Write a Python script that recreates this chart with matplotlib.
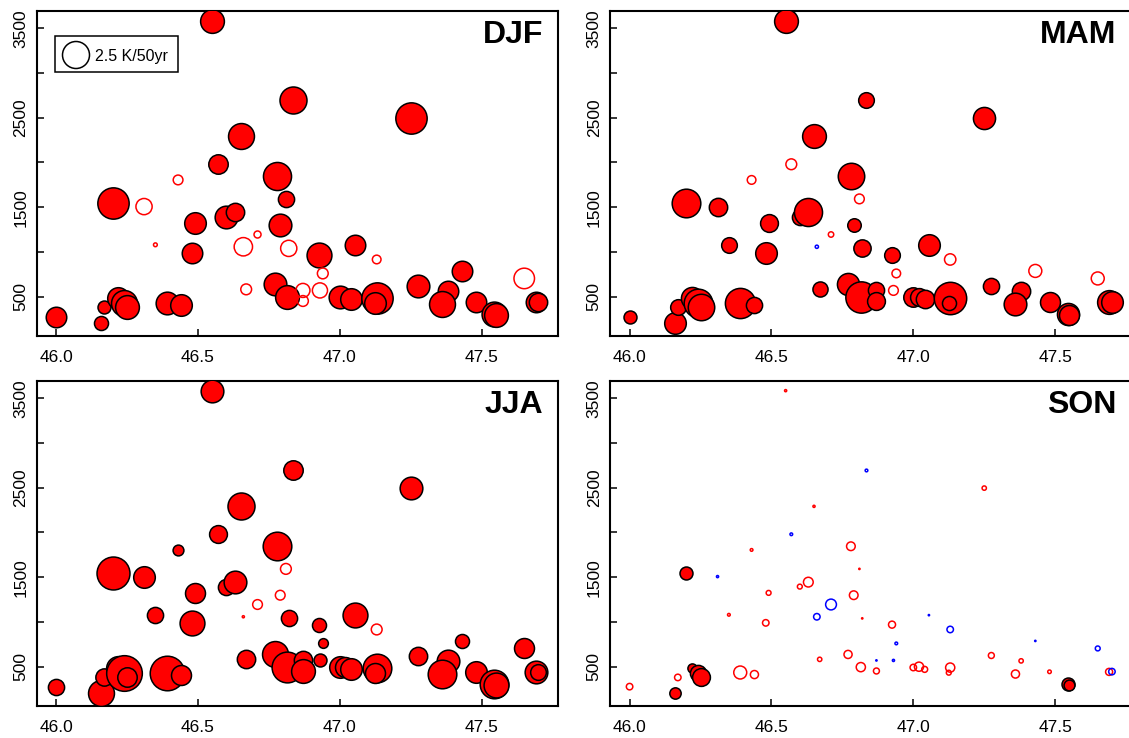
import matplotlib
matplotlib.use("Agg")
import matplotlib.pyplot as plt
from matplotlib.patches import Rectangle
import numpy as np

plt.rcParams['font.family'] = ['Liberation Sans', 'DejaVu Sans']

# station coordinates (latitude, elevation m)
lat = [46.00, 46.16, 46.17, 46.20, 46.22, 46.24, 46.25, 46.31, 46.35, 46.39,
       46.44, 46.43, 46.48, 46.49, 46.55, 46.57, 46.60, 46.63, 46.65, 46.66,
       46.67, 46.71, 46.77, 46.78, 46.79, 46.81, 46.815, 46.82, 46.835, 46.87,
       46.87, 46.925, 46.94, 46.93, 47.00, 47.02, 47.04, 47.055, 47.13, 47.125,
       47.13, 47.25, 47.275, 47.38, 47.36, 47.43, 47.48, 47.545, 47.55, 47.65,
       47.69, 47.70]
elev = [277, 203, 380, 1550, 490, 430, 390, 1507, 1080, 435,
        412, 1805, 990, 1325, 3585, 1980, 1395, 1445, 2292, 1058,
        582, 1195, 637, 1846, 1299, 1593, 495, 1040, 2693, 570,
        452, 970, 760, 570, 491, 500, 470, 1076, 490, 433,
        916, 2496, 625, 565, 418, 788, 443, 310, 300, 704,
        442, 445]

# trends in K/50yr per season
djf_trend = [1.9, 1.3, 1.2, 2.9, 2.0, 2.4, 2.2, 1.5, 0.35, 2.1,
             2.0, 0.9, 1.9, 2.0, 2.2, 1.8, 2.1, 1.7, 2.4, 1.7,
             1.0, 0.65, 2.1, 2.6, 2.1, 1.5, 2.2, 1.5, 2.5, 1.3,
             1.0, 2.3, 1.0, 1.4, 2.1, 1.3, 2.0, 1.9, 2.9, 2.0,
             0.8, 2.9, 2.1, 1.9, 2.4, 1.9, 1.9, 2.3, 2.2, 1.9,
             1.9, 1.7]
djf_sig = ['F', 'F', 'F', 'F', 'F', 'F', 'F', 'O', 'O', 'F',
           'F', 'O', 'F', 'F', 'F', 'F', 'F', 'F', 'F', 'O',
           'O', 'O', 'F', 'F', 'F', 'F', 'F', 'O', 'F', 'O',
           'O', 'F', 'O', 'O', 'F', 'O', 'F', 'F', 'F', 'F',
           'O', 'F', 'F', 'F', 'F', 'F', 'F', 'F', 'F', 'O',
           'F', 'F']

mam_trend = [1.2, 2.0, 1.45, 2.65, 2.05, 2.65, 2.45, 1.7, 1.45, 2.8,
             1.5, 0.8, 2.0, 1.65, 2.2, 1.0, 1.5, 2.6, 2.2, -0.3,
             1.4, 0.5, 2.05, 2.45, 1.25, 0.9, 2.9, 1.6, 1.45, 1.5,
             1.65, 1.45, 0.8, 0.9, 1.8, 1.65, 1.7, 2.0, 3.0, 1.3,
             1.05, 2.05, 1.5, 1.7, 2.1, 1.2, 1.85, 2.05, 1.85, 1.2,
             2.2, 2.0]
mam_sig = ['F', 'F', 'F', 'F', 'F', 'F', 'F', 'F', 'F', 'F',
           'F', 'O', 'F', 'F', 'F', 'O', 'F', 'F', 'F', 'O',
           'F', 'O', 'F', 'F', 'F', 'O', 'F', 'F', 'F', 'F',
           'F', 'F', 'O', 'O', 'F', 'F', 'F', 'F', 'F', 'F',
           'O', 'F', 'F', 'F', 'F', 'O', 'F', 'F', 'F', 'O',
           'F', 'F']

jja_trend = [1.5, 2.4, 1.6, 3.05, 2.2, 3.3, 1.8, 2.0, 1.5, 3.2,
             1.85, 1.0, 2.3, 1.85, 2.1, 1.65, 1.5, 2.1, 2.5, 0.2,
             1.7, 0.9, 2.4, 2.65, 0.9, 1.0, 2.85, 1.5, 1.8, 1.7,
             2.2, 1.3, 0.9, 1.2, 2.0, 1.85, 2.0, 2.3, 2.65, 1.85,
             1.0, 2.1, 1.7, 2.1, 2.65, 1.3, 2.0, 2.65, 2.3, 1.85,
             2.1, 1.45]
jja_sig = ['F', 'F', 'F', 'F', 'F', 'F', 'F', 'F', 'F', 'F',
           'F', 'F', 'F', 'F', 'F', 'F', 'F', 'F', 'F', 'O',
           'F', 'O', 'F', 'F', 'O', 'O', 'F', 'F', 'F', 'F',
           'F', 'F', 'F', 'F', 'F', 'F', 'F', 'F', 'F', 'F',
           'O', 'F', 'F', 'F', 'F', 'F', 'F', 'F', 'F', 'F',
           'F', 'F']

son_trend = [0.6, 1.05, 0.6, 1.2, 0.85, 1.5, 1.65, -0.2, 0.25, 1.2,
             0.75, 0.25, 0.6, 0.45, 0.2, -0.25, 0.45, 0.9, 0.2, -0.6,
             0.4, -1.0, 0.75, 0.8, 0.8, 0.12, 0.85, 0.12, -0.25, -0.12,
             0.55, 0.65, -0.25, -0.2, 0.6, 0.85, 0.55, -0.12, 0.85, 0.45,
             -0.6, 0.4, 0.55, 0.4, 0.75, -0.12, 0.33, 1.2, 1.0, -0.45,
             0.65, -0.6]
son_sig = ['O', 'F', 'O', 'F', 'F', 'F', 'F', 'O', 'O', 'O',
           'O', 'O', 'O', 'O', 'O', 'O', 'O', 'O', 'O', 'O',
           'O', 'O', 'O', 'O', 'O', 'O', 'O', 'O', 'O', 'O',
           'O', 'O', 'O', 'O', 'O', 'O', 'O', 'O', 'O', 'O',
           'O', 'O', 'O', 'O', 'O', 'O', 'O', 'F', 'F', 'O',
           'O', 'O']

seasons = ['DJF', 'MAM', 'JJA', 'SON']
trends = [djf_trend, mam_trend, jja_trend, son_trend]
sigs = [djf_sig, mam_sig, jja_sig, son_sig]

x_ticks = [46.0, 46.5, 47.0, 47.5]
x_ticklabels = ['46.0', '46.5', '47.0', '47.5']
y_ticks = [500, 1000, 1500, 2000, 2500, 3000, 3500]
y_ticklabels = ['500', '', '1500', '', '2500', '', '3500']
legend_value = 2.5
legend_label = '2.5 K/50yr'

W, H = 1129, 738
DPI = 100
fig = plt.figure(figsize=(W / DPI, H / DPI), dpi=DPI)

PX_PER_K = 27.0 / 2.5


def size_pts2(v):
    d_px = PX_PER_K * abs(v)
    d_pt = d_px * 72.0 / DPI
    return d_pt ** 2


# axes positions in pixels: (left, top, right, bottom)
boxes = [(36.5, 11, 558, 335.7), (610, 11, 1131.5, 335.7),
         (36.5, 381, 558, 705.7), (610, 381, 1131.5, 705.7)]

for i, (name, tr, sg) in enumerate(zip(seasons, trends, sigs)):
    l, t, r, b = boxes[i]
    ax = fig.add_axes([l / W, 1 - b / H, (r - l) / W, (b - t) / H])
    for la, el, v, s in zip(lat, elev, tr, sg):
        if v < 0:
            ax.scatter(la, el, s=size_pts2(v), facecolors='none',
                       edgecolors='#0000FF', linewidths=1.1, zorder=3)
        elif s == 'F':
            ax.scatter(la, el, s=size_pts2(v), facecolors='#FF0000',
                       edgecolors='black', linewidths=1.1, zorder=3)
        else:
            ax.scatter(la, el, s=size_pts2(v), facecolors='none',
                       edgecolors='#FF0000', linewidths=1.1, zorder=3)
    ax.set_xlim(45.931, 47.769)
    ax.set_ylim(64, 3693)
    ax.set_xticks(x_ticks)
    ax.set_xticklabels(x_ticklabels)
    ax.set_yticks(y_ticks)
    ax.set_yticklabels(y_ticklabels, rotation=90, va='center')
    ax.tick_params(axis='both', direction='in', length=5, width=1.1,
                   labelsize=12.5)
    ax.tick_params(axis='x', pad=10)
    ax.tick_params(axis='y', pad=6)
    for sp in ax.spines.values():
        sp.set_linewidth(1.5)
    ax.text(0.971, 0.972, name, transform=ax.transAxes, ha='right',
            va='top', fontsize=23, fontweight='bold')

    if i == 0:
        pw, ph = r - l, b - t
        bx0 = (55 - l) / pw
        by0 = (b - 72) / ph
        bw = (178 - 55) / pw
        bh = (72 - 36) / ph
        ax.add_patch(Rectangle((bx0, by0), bw, bh, transform=ax.transAxes,
                               facecolor='white', edgecolor='black',
                               linewidth=1.1, zorder=4))
        ax.scatter([(76 - l) / pw], [(b - 55) / ph], s=size_pts2(legend_value),
                   facecolors='none', edgecolors='black', linewidths=1.1,
                   transform=ax.transAxes, zorder=5)
        ax.text((95 - l) / pw, (b - 56) / ph, legend_label,
                transform=ax.transAxes, ha='left', va='center',
                fontsize=11.5, zorder=5)

fig.savefig('out.png', dpi=DPI)
